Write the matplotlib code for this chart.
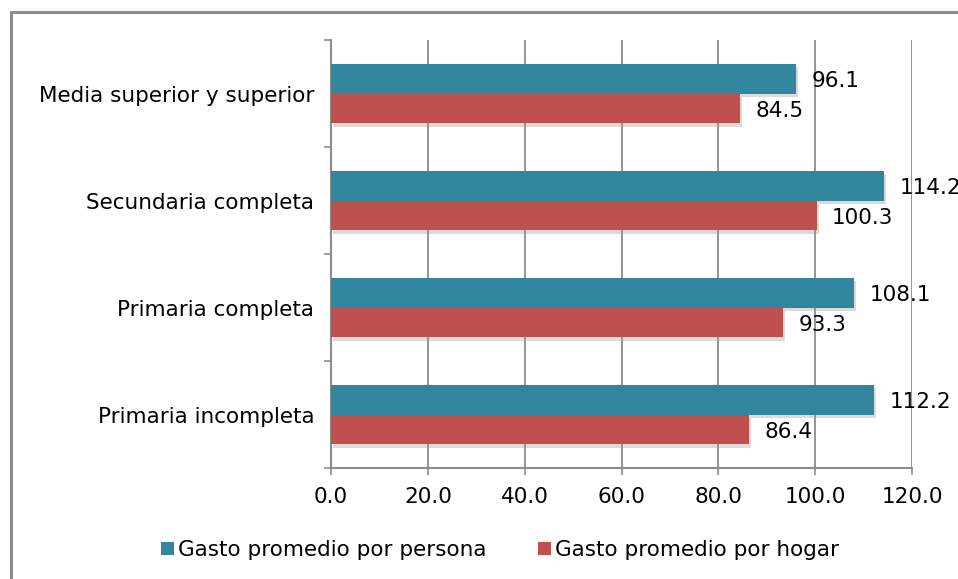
import numpy as np
import matplotlib
matplotlib.use('Agg')
import matplotlib.pyplot as plt
import matplotlib.patheffects as pe
from matplotlib.lines import Line2D

plt.rcParams['font.family'] = ['DejaVu Sans']

niveles = ['Primaria incompleta', 'Primaria completa', 'Secundaria completa',
           'Media superior y superior']
por_persona = [112.2, 108.1, 114.2, 96.1]
por_hogar = [86.4, 93.3, 100.3, 84.5]
ticks_x = [0, 20, 40, 60, 80, 100, 120]

azul = '#31859C'
rojo = '#C0504D'
gris = '#8C8C8C'
fs = 15.5

fig = plt.figure(figsize=(9.58, 5.79), dpi=100)
ax = fig.add_axes([0.3455, 0.1917, 0.6065, 0.7392])

y = np.arange(len(niveles))
h = 0.28
sombra = [pe.SimplePatchShadow(offset=(1.5, -2.5), shadow_rgbFace='#999999', alpha=0.35), pe.Normal()]

b1 = ax.barh(y + h / 2, por_persona, height=h, color=azul, zorder=3,
             label='Gasto promedio por persona')
b2 = ax.barh(y - h / 2, por_hogar, height=h, color=rojo, zorder=3,
             label='Gasto promedio por hogar')
for b in list(b1) + list(b2):
    b.set_path_effects(sombra)

for i in range(len(niveles)):
    ax.text(por_persona[i] + 3.2, y[i] + h / 2 - 0.02, '%.1f' % por_persona[i],
            va='center', ha='left', fontsize=fs, zorder=5)
    ax.text(por_hogar[i] + 3.2, y[i] - h / 2 - 0.02, '%.1f' % por_hogar[i],
            va='center', ha='left', fontsize=fs, zorder=5)

ax.set_xlim(0, 120)
ax.set_ylim(-0.5, len(niveles) - 0.5)
ax.set_xticks(ticks_x)
ax.set_xticklabels(['%.1f' % t for t in ticks_x], fontsize=fs)
ax.set_yticks(y)
ax.set_yticklabels(niveles, fontsize=fs)
ax.set_yticks(np.arange(-0.5, len(niveles)), minor=True)

ax.tick_params(axis='y', which='major', length=0, pad=12)
ax.tick_params(axis='y', which='minor', length=5, width=1.2, color=gris, direction='out')
ax.tick_params(axis='x', length=5, width=1.2, color=gris, direction='out', pad=9)

ax.grid(axis='x', color=gris, linewidth=1.3, zorder=0)
for s in ['top', 'right']:
    ax.spines[s].set_visible(False)
for s in ['left', 'bottom']:
    ax.spines[s].set_color(gris)
    ax.spines[s].set_linewidth(1.5)

leg = fig.legend(handles=[b1, b2], loc='center', bbox_to_anchor=(500 / 958, 1 - 550 / 579),
                 ncol=2, frameon=False, fontsize=fs, handlelength=0.6, handleheight=0.6,
                 handletextpad=0.2, columnspacing=2.4)
for p in leg.get_patches():
    p.set_path_effects([pe.Normal()])

# marco exterior del gráfico
fig.add_artist(Line2D([11 / 958, 11 / 958, 1.0], [0.0, 1 - 12 / 579, 1 - 12 / 579],
                      transform=fig.transFigure, color=gris, linewidth=2.2))

fig.savefig('out.png', dpi=100)
